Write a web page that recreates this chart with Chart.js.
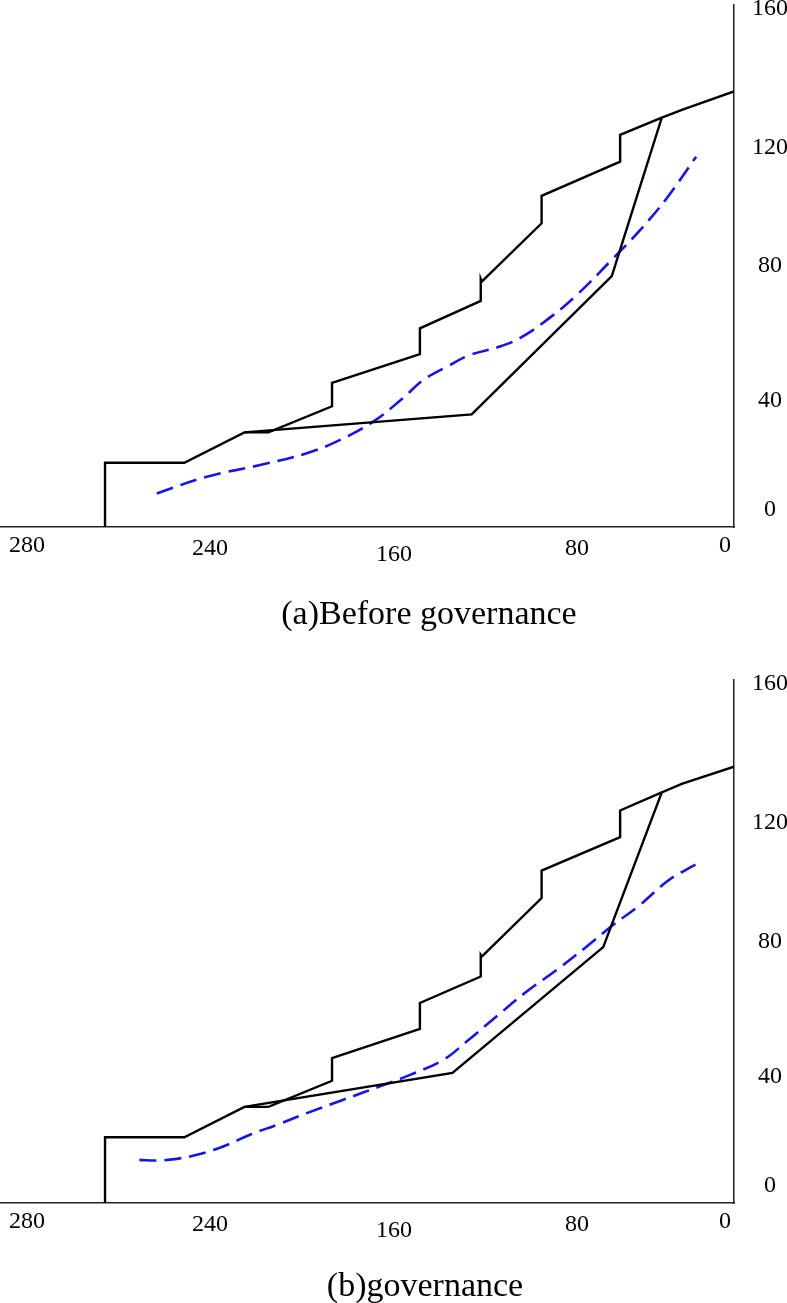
<!DOCTYPE html>
<html>
<head>
<meta charset="utf-8">
<script src="https://cdn.jsdelivr.net/npm/chart.js@4.4.1/dist/chart.umd.min.js"></script>
<style>
  html, body { margin: 0; padding: 0; background: #fff; }
  body { width: 787px; height: 1303px; position: relative; overflow: hidden; }
  .panel { position: absolute; left: 0; width: 787px; }
  .cap {
    position: absolute; white-space: nowrap; transform: translateX(-50%);
    font-family: "Liberation Serif", "Times New Roman", serif; font-size: 34px;
    line-height: 34px; color: #000;
  }
</style>
</head>
<body>
<div class="panel" style="top:0;height:660px"><canvas id="chartA"></canvas></div>
<div class="panel" style="top:660px;height:643px"><canvas id="chartB"></canvas></div>
<div class="cap" style="left:429px;top:596px">(a)Before governance</div>
<div class="cap" style="left:425px;top:1268px">(b)governance</div>
<script>
// tick labels (the figure's labels are not evenly spaced, so each sits at its own value)
const xTickLabels = ['0', '80', '160', '240', '280'];
const xTickAt = [3.6, 62.2, 134.7, 207.5, 280];
const yTickLabels = ['0', '40', '80', '120', '160'];
const yTickAt = [5.2, 38.6, 80, 116.2, 158.8];

// (a) before governance
const beforeLowerX = [249.1, 249.1, 217.7, 193.9, 103.9, 48.4, 28.6, 20.1, 0];
const beforeLowerY = [0, 19.7, 19.7, 29.0, 34.5, 76.9, 125.5, 128.0, 133.5];
const beforeUpperX = [193.9, 184.4, 159.2, 159.2, 124.4, 124.4, 100.3, 100.3, 99.9, 76.2, 76.2, 45.1, 45.1, 28.6];
const beforeUpperY = [29.0, 29.0, 37.0, 44.2, 53.0, 60.9, 69.3, 76.0, 75.2, 93.1, 101.5, 112.0, 120.2, 125.5];
const beforeDashX = [228.6, 208.8, 187.7, 169.2, 156.0, 142.9, 131.1, 123.0, 113.8, 104.6, 92.7, 84.8, 74.2, 62.3, 47.8, 37.2, 26.7, 15.0];
const beforeDashY = [10.3, 15.4, 19.0, 22.6, 26.7, 32.3, 39.5, 45.1, 49.1, 52.7, 55.3, 57.9, 63.4, 71.1, 82.4, 91.0, 100.7, 113.5];

// (b) governance
const afterLowerX = [249.1, 249.1, 217.7, 193.9, 111.5, 51.8, 28.6, 20.7, 0];
const afterLowerY = [0, 20.1, 20.1, 29.4, 39.8, 78.3, 125.6, 128.2, 133.5];
const afterUpperX = [193.9, 184.4, 159.2, 159.2, 124.4, 124.4, 100.3, 100.3, 99.9, 76.2, 76.2, 45.1, 45.1, 28.6];
const afterUpperY = [29.4, 29.4, 37.4, 44.3, 53.3, 61.2, 69.3, 75.9, 75.4, 93.3, 101.7, 111.9, 120.1, 125.6];
const afterDashX = [235.5, 228.6, 220.7, 211.5, 202.3, 191.7, 181.1, 169.2, 154.7, 140.2, 128.3, 115.1, 105.9, 94.0, 82.1, 70.2, 58.3, 47.8, 37.2, 26.7, 18.7, 13.5];
const afterDashY = [13.2, 13.0, 13.5, 15.0, 17.3, 20.9, 23.9, 27.5, 31.6, 35.7, 39.2, 43.8, 49.4, 57.1, 64.7, 71.3, 78.5, 85.1, 91.2, 98.3, 102.1, 104.2];

const X_MAX = 290.7;
const Y_MAX = 160;
const serif = '"Liberation Serif", "Times New Roman", serif';
// staggered drop of the x labels below the axis (px line heights)
const xLabelDrop = ['38px', '44px', '55px', '44px', '38px'];

function pts(xs, ys) {
    return xs.map((x, i) => ({ x: x, y: ys[i] }));
}

function makeChart(id, lowerX, lowerY, upperX, upperY, dashX, dashY, padTop, padBottom) {
    const solid = {
        borderColor: '#000',
        borderWidth: 2.4,
        pointRadius: 0,
        tension: 0,
        fill: false
    };
    return new Chart(document.getElementById(id), {
        type: 'line',
        data: {
            datasets: [
                Object.assign({ label: 'lower', data: pts(lowerX, lowerY) }, solid),
                Object.assign({ label: 'upper', data: pts(upperX, upperY) }, solid),
                {
                    label: 'dashed',
                    data: pts(dashX, dashY),
                    borderColor: 'rgb(20,20,240)',
                    borderWidth: 2.6,
                    borderDash: [17, 8],
                    pointRadius: 0,
                    tension: 0.4,
                    fill: false
                }
            ]
        },
        options: {
            animation: false,
            responsive: true,
            maintainAspectRatio: false,
            layout: { padding: { top: padTop, bottom: padBottom, left: 0, right: 0 } },
            plugins: {
                legend: { display: false },
                tooltip: { enabled: false },
                title: { display: false }
            },
            scales: {
                x: {
                    type: 'linear',
                    reverse: true,
                    min: 0,
                    max: X_MAX,
                    grid: { display: false, drawTicks: false },
                    border: { display: true, color: '#222', width: 1.5 },
                    afterBuildTicks: s => { s.ticks = xTickAt.map(v => ({ value: v })); },
                    afterFit: s => { s.height = 60; s.paddingLeft = 0; s.paddingRight = 0; },
                    ticks: {
                        autoSkip: false,
                        maxRotation: 0,
                        padding: 0,
                        color: '#000',
                        font: ctx => ({ family: serif, size: 24, lineHeight: xLabelDrop[ctx.index] || '40px' }),
                        callback: (v, i) => xTickLabels[i]
                    }
                },
                y: {
                    type: 'linear',
                    position: 'right',
                    min: 0,
                    max: Y_MAX,
                    grid: { display: false, drawTicks: false },
                    border: { display: true, color: '#222', width: 1.5 },
                    afterBuildTicks: s => { s.ticks = yTickAt.map(v => ({ value: v })); },
                    afterFit: s => { s.width = 53; s.paddingTop = 0; s.paddingBottom = 0; },
                    ticks: {
                        autoSkip: false,
                        padding: 18,
                        crossAlign: 'center',
                        color: '#000',
                        font: { family: serif, size: 24 },
                        callback: (v, i) => yTickLabels[i]
                    }
                }
            }
        }
    });
}

makeChart('chartA', beforeLowerX, beforeLowerY, beforeUpperX, beforeUpperY, beforeDashX, beforeDashY, 5, 73);
makeChart('chartB', afterLowerX, afterLowerY, afterUpperX, afterUpperY, afterDashX, afterDashY, 20, 40);
</script>
</body>
</html>
